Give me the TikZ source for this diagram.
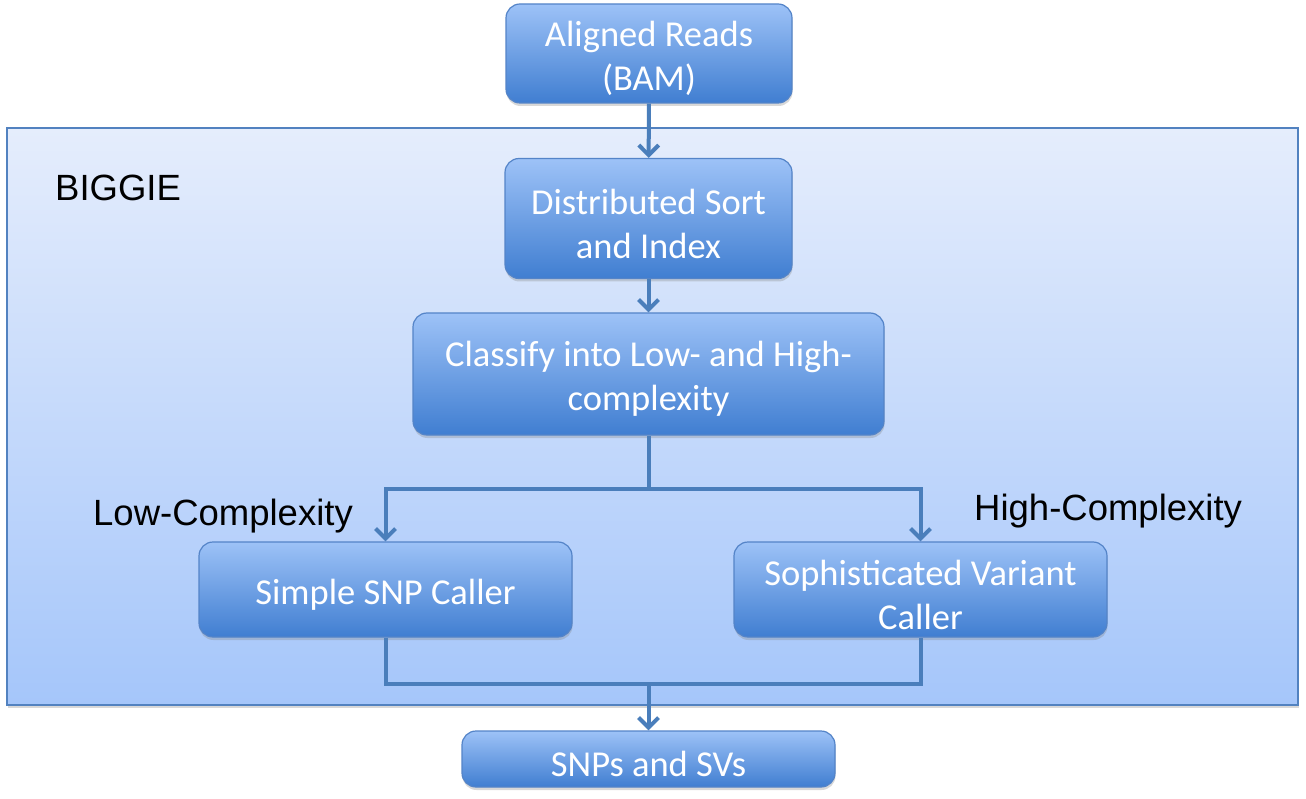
\documentclass[tikz,border=0pt]{standalone}
\usepackage{fontspec}
\setmainfont{Carlito}
\newfontfamily\labelfont{Liberation Sans}
\usetikzlibrary{arrows.meta,shadows}
\definecolor{boxtop}{RGB}{157,194,247}
\definecolor{boxbot}{RGB}{64,126,209}
\definecolor{boxedge}{RGB}{84,132,200}
\definecolor{bigtop}{RGB}{229,237,252}
\definecolor{bigbot}{RGB}{165,198,250}
\definecolor{bigedge}{RGB}{82,130,192}
\definecolor{linecol}{RGB}{74,126,187}
\begin{document}
\begin{tikzpicture}[x=1pt,y=-1pt,
  procbox/.style={draw=boxedge, line width=1.2pt, rounded corners=14pt,
    top color=boxtop, bottom color=boxbot, inner sep=0pt,
    drop shadow={opacity=0.3, shadow xshift=0.5pt, shadow yshift=-3pt}},
  boxtext/.style={text=white, font=\fontsize{36.5}{44}\selectfont, align=center,
    inner sep=0pt, yshift=-5pt},
  bigbox/.style={draw=bigedge, line width=1.2pt, top color=bigtop, bottom color=bigbot,
    inner sep=0pt, drop shadow={opacity=0.3, shadow xshift=1pt, shadow yshift=-3pt}},
  lbl/.style={font=\labelfont\fontsize{36.5}{44}\selectfont, text=black, inner sep=0pt},
  conn/.style={draw=linecol, line width=4pt},
  arr/.style={conn, -{Straight Barb[length=10pt,width=20pt]}}]
\useasboundingbox (0,0) rectangle (1306,799);
\fill[white] (0,0) rectangle (1306,799);
% container
\node[bigbox, minimum width=1291pt, minimum height=577pt] (biggie) at (652.5,416.5) {};
\node[lbl, anchor=base west] (biggielbl) at (55,201) {BIGGIE};
% process boxes
\node[procbox, minimum width=286pt, minimum height=99pt] (aligned) at (649,53.5) {};
\node[procbox, minimum width=287pt, minimum height=120pt] (sort) at (648.5,218.5) {};
\node[procbox, minimum width=471pt, minimum height=122pt] (classify) at (648.5,374) {};
\node[procbox, minimum width=373pt, minimum height=95pt] (simple) at (385.5,589.5) {};
\node[procbox, minimum width=373pt, minimum height=95pt] (soph) at (920.5,589.5) {};
\node[procbox, minimum width=373pt, minimum height=56pt] (snps) at (648.5,759) {};
% box texts
\node[boxtext] (alignedtxt) at (aligned.center) {Aligned Reads\\(BAM)};
\node[boxtext] (sorttxt) at (sort.center) {Distributed Sort\\and Index};
\node[boxtext] (classifytxt) at (classify.center) {Classify into Low- and High-\\complexity};
\node[boxtext] (simpletxt) at (simple.center) {Simple SNP Caller};
\node[boxtext] (sophtxt) at (soph.center) {Sophisticated Variant\\Caller};
\node[boxtext] (snpstxt) at (snps.center) {SNPs and SVs};
% labels
\node[lbl, anchor=base west] (lowlbl) at (93,525) {Low-Complexity};
\node[lbl, anchor=base west] (highlbl) at (974,520) {High-Complexity};
% connectors
\coordinate (split) at (648.5,489);
\coordinate (merge) at (648.5,684);
\draw[arr] (aligned) -- (sort);
\draw[arr] (sort) -- (classify);
\draw[conn] (classify.south) -- (split);
\draw[arr] (split) -| (simple.north);
\draw[arr] (split) -| (soph.north);
\draw[conn] (simple.south) |- (merge) -| (soph.south);
\draw[arr] (merge) -- (snps.north);
\end{tikzpicture}
\end{document}
